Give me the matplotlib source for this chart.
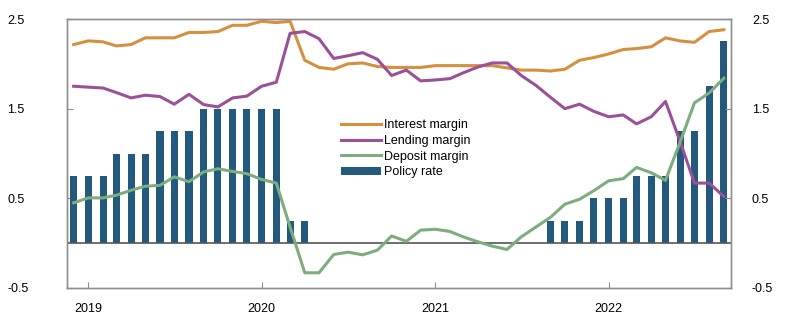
import pandas as pd
import matplotlib
matplotlib.use("Agg")
import matplotlib.pyplot as plt
import matplotlib.dates as mdates

plt.rcParams['font.family'] = ['Liberation Sans', 'DejaVu Sans']
plt.rcParams['font.size'] = 9

# monthly observations, Dec 2018 - Sep 2022
months = pd.date_range("2018-12-01", periods=46, freq="MS")

interest_margin = [2.215, 2.256, 2.245, 2.20, 2.215, 2.29, 2.29, 2.29, 2.35, 2.35,
                   2.36, 2.43, 2.43, 2.475, 2.46, 2.475, 2.04, 1.96, 1.94, 2.00,
                   2.01, 1.97, 1.96, 1.96, 1.96, 1.98, 1.98, 1.98, 1.98, 1.98,
                   1.955, 1.93, 1.93, 1.92, 1.94, 2.04, 2.07, 2.11, 2.16, 2.17,
                   2.19, 2.29, 2.255, 2.24, 2.36, 2.38]

lending_margin = [1.75, 1.74, 1.73, 1.68, 1.62, 1.65, 1.635, 1.55, 1.66, 1.545,
                  1.52, 1.62, 1.64, 1.75, 1.795, 2.34, 2.36, 2.28, 2.06, 2.09,
                  2.125, 2.05, 1.87, 1.93, 1.81, 1.82, 1.835, 1.90, 1.965, 2.01,
                  2.01, 1.87, 1.76, 1.625, 1.50, 1.55, 1.47, 1.41, 1.43, 1.33,
                  1.41, 1.58, 1.13, 0.67, 0.67, 0.52]

deposit_margin = [0.45, 0.505, 0.505, 0.535, 0.59, 0.635, 0.645, 0.74, 0.685, 0.795,
                  0.83, 0.80, 0.775, 0.71, 0.67, 0.18, -0.33, -0.33, -0.126, -0.10,
                  -0.13, -0.078, 0.08, 0.02, 0.145, 0.155, 0.13, 0.07, 0.015, -0.033,
                  -0.07, 0.07, 0.18, 0.29, 0.435, 0.49, 0.585, 0.695, 0.72, 0.845,
                  0.785, 0.70, 1.13, 1.565, 1.675, 1.84]

policy_rate = [0.75, 0.75, 0.75, 1.0, 1.0, 1.0, 1.25, 1.25, 1.25, 1.5,
               1.5, 1.5, 1.5, 1.5, 1.5, 0.25, 0.25, 0, 0, 0,
               0, 0, 0, 0, 0, 0, 0, 0, 0, 0,
               0, 0, 0, 0.25, 0.25, 0.25, 0.5, 0.5, 0.5, 0.75,
               0.75, 0.75, 1.25, 1.25, 1.75, 2.25]

c_int = "#d4903f"
c_lend = "#9a5199"
c_dep = "#7dad7e"
c_bar = "#22597d"
c_spine = "#8f8f8f"

fig = plt.figure(figsize=(7.96, 3.31), dpi=100)
ax = fig.add_axes([67 / 796, 43 / 331, 664 / 796, 269 / 331])

bars = ax.bar(months, policy_rate, width=15, color=c_bar, zorder=2, label="Policy rate")
ax.axhline(0, color="#555555", lw=1.2, zorder=3)
l1, = ax.plot(months, interest_margin, color=c_int, lw=2.2, zorder=4, label="Interest margin")
l2, = ax.plot(months, lending_margin, color=c_lend, lw=2.2, zorder=4, label="Lending margin")
l3, = ax.plot(months, deposit_margin, color=c_dep, lw=2.2, zorder=4, label="Deposit margin")

ax.set_xlim(pd.Timestamp("2018-11-17"), pd.Timestamp("2022-09-16"))
ax.set_ylim(-0.5, 2.5)
yt = [-0.5, 0.5, 1.5, 2.5]
ax.set_yticks(yt)
ax.set_yticklabels(["-0.5", "0.5", "1.5", "2.5"])
ax.xaxis.set_major_locator(mdates.YearLocator())
ax.xaxis.set_major_formatter(mdates.DateFormatter("%Y"))

ax2 = ax.twinx()
ax2.set_ylim(-0.5, 2.5)
ax2.set_yticks(yt)
ax2.set_yticklabels(["-0.5", "0.5", "1.5", "2.5"])

for a in (ax, ax2):
    for s in a.spines.values():
        s.set_color(c_spine)
        s.set_linewidth(1.0)

ax.tick_params(axis="y", direction="in", length=4, color=c_spine, pad=43)
for lbl in ax.get_yticklabels():
    lbl.set_horizontalalignment("left")
ax.tick_params(axis="x", direction="in", length=4, color=c_spine, pad=11)
ax2.tick_params(axis="y", direction="in", length=4, color=c_spine, pad=15)

fig.legend([l1, l2, l3, bars], ["Interest margin", "Lending margin", "Deposit margin", "Policy rate"],
           loc="upper left", bbox_to_anchor=(335 / 796, 1 - 113 / 331), frameon=False,
           borderpad=0, handlelength=3.2, handletextpad=0.25, labelspacing=0.3, fontsize=9)

fig.savefig("out.png", dpi=100)
